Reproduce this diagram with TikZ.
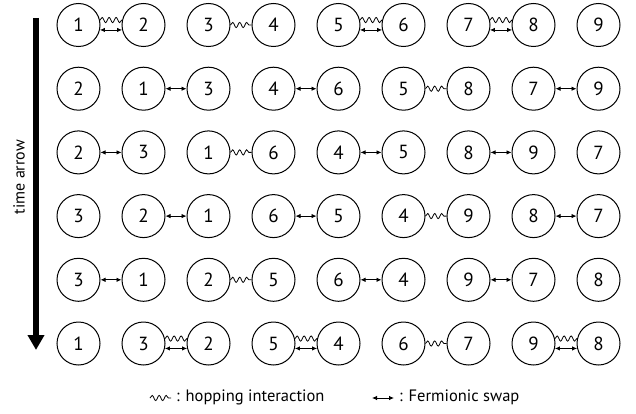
\documentclass[tikz,border=0pt]{standalone}
\usepackage{fontspec}
\setmainfont{PT Sans}
\usetikzlibrary{arrows.meta,decorations.pathmorphing}

\begin{document}
\begin{tikzpicture}[
    x=1pt, y=-1pt,
    site/.style={circle, draw, line width=1pt, minimum size=43pt, inner sep=0pt, font=\fontsize{19}{19}\selectfont},
    hop/.style={line width=0.8pt, decorate, decoration={snake, segment length=7pt, amplitude=2.6pt}},
    swap/.style={{Latex[length=5pt,width=4.5pt]}-{Latex[length=5pt,width=4.5pt]}, line width=0.8pt},
    timearrow/.style={-{Triangle[length=15pt,width=16pt]}, line width=5.5pt},
    legend/.style={font=\fontsize{16.5}{16.5}\selectfont, anchor=west, inner sep=0pt}
]
    \useasboundingbox (0,0) rectangle (636,414);

    % sites, one row per time step
    \foreach \row/\labels in {1/{1,2,3,4,5,6,7,8,9}, 2/{2,1,3,4,6,5,8,7,9}, 3/{2,3,1,6,4,5,8,9,7},
                              4/{3,2,1,6,5,4,9,8,7}, 5/{3,1,2,5,6,4,9,7,8}, 6/{1,3,2,5,4,6,7,9,8}}
        \foreach \lab [count=\col] in \labels
            \node[site] (r\row c\col) at ({78.5+65*(\col-1)}, {25+63.7*(\row-1)}) {\lab};

    % hopping and swap together
    \foreach \a/\b in {r1c1/r1c2, r1c5/r1c6, r1c7/r1c8, r6c2/r6c3, r6c4/r6c5, r6c8/r6c9} {
        \draw[hop] (\a.13) -- (\b.167);
        \draw[swap] (\a.-13) -- (\b.-167);
    }
    % hopping only
    \foreach \a/\b in {r1c3/r1c4, r2c6/r2c7, r3c3/r3c4, r4c6/r4c7, r5c3/r5c4, r6c6/r6c7}
        \draw[hop] (\a) -- (\b);
    % swap only
    \foreach \a/\b in {r2c2/r2c3, r2c4/r2c5, r2c8/r2c9, r3c1/r3c2, r3c5/r3c6, r3c7/r3c8,
                       r4c2/r4c3, r4c4/r4c5, r4c8/r4c9, r5c1/r5c2, r5c5/r5c6, r5c7/r5c8}
        \draw[swap] (\a) -- (\b);

    % time arrow
    \coordinate (ttop) at (36,18);
    \coordinate (tbot) at (36,350);
    \draw[timearrow] (ttop) -- (tbot);
    \node[rotate=90, font=\fontsize{16}{16}\selectfont] (tlabel) at (19,177) {time arrow};

    % legend
    \coordinate (hopL) at (150,398);
    \coordinate (hopR) at (171,398);
    \draw[hop] (hopL) -- (hopR);
    \node[legend] (hoptext) at (176,397) {: hopping interaction};
    \coordinate (swapL) at (372,398);
    \coordinate (swapR) at (394,398);
    \draw[swap] (swapL) -- (swapR);
    \node[legend] (swaptext) at (399,397) {: Fermionic swap};
\end{tikzpicture}
\end{document}
